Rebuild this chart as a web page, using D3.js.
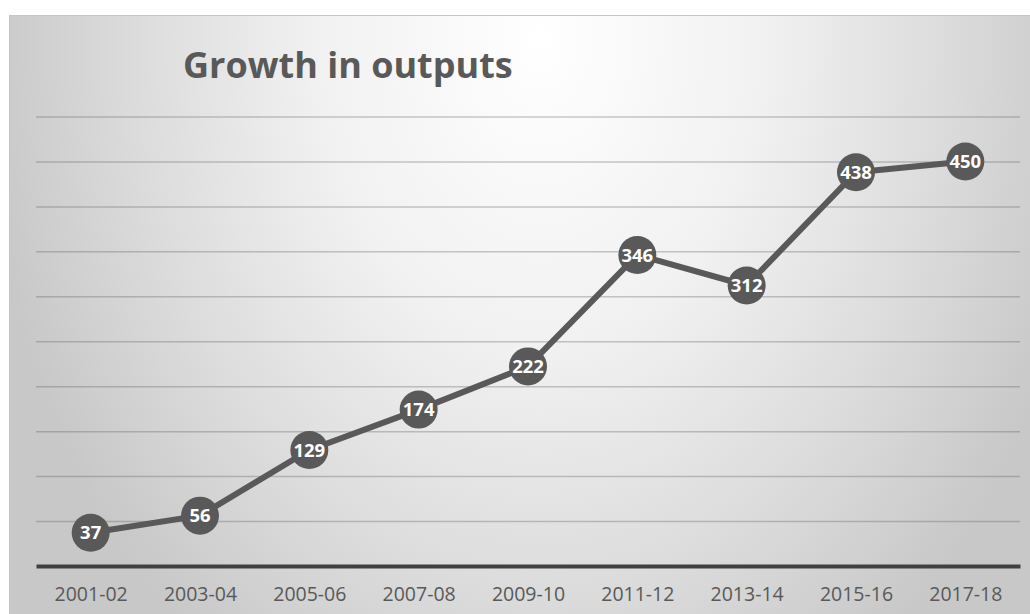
<!DOCTYPE html>
<html>
<head>
<meta charset="utf-8">
<script src="https://cdn.jsdelivr.net/npm/d3@7"></script>
<style>
	body { margin: 0; background: #fff; }
	svg { display: block; }
	.grid line { stroke: #595959; stroke-opacity: 0.32; stroke-width: 1.5; }
	.grid .domain { display: none; }
	.x.axis .domain { stroke: #404040; stroke-width: 4; }
	.x.axis .tick line { display: none; }
	.x.axis text { font-family: "Open Sans", sans-serif; font-size: 19.5px; fill: #595959; }
	.line { fill: none; stroke: #595959; stroke-width: 6; stroke-linejoin: round; }
	.dot { fill: #595959; }
	.lbl { font-family: "Open Sans", sans-serif; font-weight: 700; font-size: 18.5px; fill: #fff; }
</style>
</head>
<body>
<div id="chart"></div>
<script>
var years = ["2001-02", "2003-04", "2005-06", "2007-08", "2009-10", "2011-12", "2013-14", "2015-16", "2017-18"];
var outputs = [37, 56, 129, 174, 222, 346, 312, 438, 450];
var yTicks = [0, 50, 100, 150, 200, 250, 300, 350, 400, 450, 500];

var W = 1030, H = 614;
var margin = {top: 116.5, right: 10, bottom: 48, left: 36};
var width = W - margin.left - margin.right;
var height = H - margin.top - margin.bottom;

var svg = d3.select("#chart")
	.append("svg")
		.attr("width", W)
		.attr("height", H);

// chart area background, elliptical radial fill
var grad = svg.append("defs").append("radialGradient")
	.attr("id", "bg")
	.attr("gradientUnits", "userSpaceOnUse")
	.attr("cx", 540).attr("cy", 40).attr("r", 560)
	.attr("gradientTransform", "translate(540,40) scale(1,1.36) translate(-540,-40)");
grad.append("stop").attr("offset", "0%").attr("stop-color", "#ffffff");
grad.append("stop").attr("offset", "40%").attr("stop-color", "#f1f1f1");
grad.append("stop").attr("offset", "72%").attr("stop-color", "#dcdcdc");
grad.append("stop").attr("offset", "100%").attr("stop-color", "#c8c8c8");

svg.append("rect")
	.attr("x", 9.5).attr("y", 15.5)
	.attr("width", W).attr("height", H)
	.attr("fill", "url(#bg)")
	.attr("stroke", "#c4c4c4");

var g = svg.append("g")
	.attr("transform", "translate(" + margin.left + "," + margin.top + ")");

var x = d3.scalePoint().domain(years).range([0, width]).padding(0.5);
var y = d3.scaleLinear().domain([0, 500]).range([height, 0]);

g.append("g")
	.attr("class", "grid")
	.call(d3.axisLeft(y).tickValues(yTicks.slice(1)).tickSize(-width).tickFormat(""));

g.append("g")
	.attr("class", "x axis")
	.attr("transform", "translate(0," + height + ")")
	.call(d3.axisBottom(x).tickSize(0).tickSizeOuter(0).tickPadding(21));

var line = d3.line()
	.x(function(d, i) { return x(years[i]); })
	.y(function(d) { return y(d); });

g.append("path")
	.datum(outputs)
	.attr("class", "line")
	.attr("d", line);

g.selectAll(".dot")
	.data(outputs)
	.enter()
	.append("circle")
		.attr("class", "dot")
		.attr("cx", function(d, i) { return x(years[i]); })
		.attr("cy", function(d) { return y(d); })
		.attr("r", 19);

g.selectAll(".lbl")
	.data(outputs)
	.enter()
	.append("text")
		.attr("class", "lbl")
		.attr("x", function(d, i) { return x(years[i]); })
		.attr("y", function(d) { return y(d); })
		.attr("dy", "0.36em")
		.attr("text-anchor", "middle")
		.text(function(d) { return d; });

svg.append("text")
	.attr("x", 183)
	.attr("y", 78)
	.attr("font-family", "Open Sans, sans-serif")
	.attr("font-weight", 700)
	.attr("font-size", 36)
	.attr("fill", "#595959")
	.text("Growth in outputs");
</script>
</body>
</html>
